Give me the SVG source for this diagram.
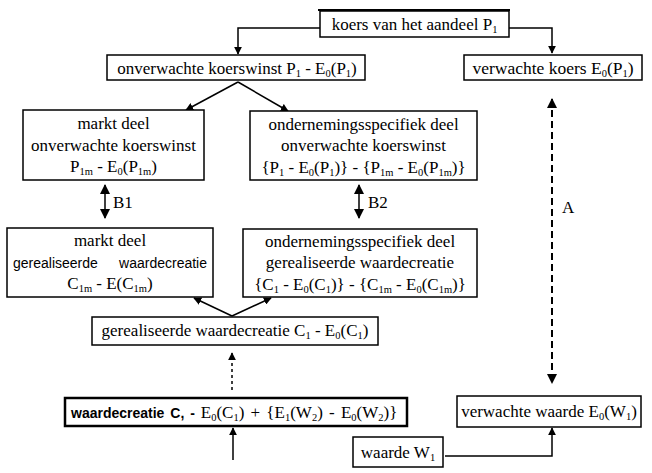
<svg xmlns="http://www.w3.org/2000/svg" width="652" height="473" viewBox="0 0 652 473">
<style>
.box{fill:#fff;stroke:#000;stroke-width:1.5}
.thick{fill:#fff;stroke:#000;stroke-width:2.5}
.t{font-family:"Liberation Serif","Times New Roman",serif;font-size:17px;fill:#000}
.s{font-family:"Liberation Sans",Arial,sans-serif;font-size:14px;fill:#000}
.b{font-family:"Liberation Sans",Arial,sans-serif;font-size:14px;font-weight:bold;fill:#000}
.sub{font-size:10.5px}
.c{stroke:#000;stroke-width:1.5;fill:none}
.d{stroke:#000;stroke-width:2;fill:none;stroke-dasharray:7 4}
.dt{stroke:#000;stroke-width:1.5;fill:none;stroke-dasharray:3 3}
</style>
<defs>
<marker id="ah" viewBox="0 0 10 10" refX="9" refY="5" markerWidth="8" markerHeight="8" markerUnits="userSpaceOnUse" orient="auto-start-reverse"><path d="M0,0 L10,5 L0,10 z" fill="#000"/></marker>
<marker id="ahb" viewBox="0 0 10 10" refX="9" refY="5" markerWidth="10" markerHeight="10" markerUnits="userSpaceOnUse" orient="auto-start-reverse"><path d="M0,0 L10,5 L0,10 z" fill="#000"/></marker>
</defs>

<g id="connectors">
<polyline class="c" points="320,28 238,28 238,54" marker-end="url(#ah)"/>
<polyline class="c" points="509,28 552,28 552,53" marker-end="url(#ah)"/>
<line class="c" x1="238" y1="82" x2="186" y2="110" marker-end="url(#ah)"/>
<line class="c" x1="238" y1="82" x2="288" y2="111" marker-end="url(#ah)"/>
<line class="c" x1="105" y1="185" x2="105" y2="218" marker-start="url(#ahb)" marker-end="url(#ahb)"/>
<line class="c" x1="359" y1="185" x2="359" y2="218" marker-start="url(#ahb)" marker-end="url(#ahb)"/>
<line class="d" x1="552" y1="99" x2="552" y2="383" marker-start="url(#ahb)" marker-end="url(#ahb)"/>
<line class="c" x1="232" y1="316" x2="194" y2="298" marker-end="url(#ah)"/>
<line class="c" x1="232" y1="316" x2="271" y2="298" marker-end="url(#ah)"/>
<line class="dt" x1="232" y1="390" x2="232" y2="353" marker-end="url(#ah)"/>
<line class="c" x1="233" y1="460" x2="233" y2="428" marker-end="url(#ah)"/>
<polyline class="c" stroke-width="1" points="445,456 552,456 552,428" marker-end="url(#ah)"/>
<text class="t" x="113" y="208">B1</text>
<text class="t" x="368" y="208">B2</text>
<text class="t" x="562" y="213">A</text>
</g>

<g id="koers">
<line x1="318" y1="10" x2="510" y2="10" stroke="#000" stroke-width="2"/>
<rect class="box" x="320" y="11" width="189" height="26"/>
<text class="t" x="414.5" y="30" text-anchor="middle">koers van het aandeel P<tspan class="sub" dy="3">1</tspan></text>
</g>

<g id="onverwachte">
<rect class="box" x="107" y="55" width="258" height="25"/>
<text class="t" x="237" y="74" text-anchor="middle">onverwachte koerswinst P<tspan class="sub" dy="3">1</tspan><tspan dy="-3"> - E</tspan><tspan class="sub" dy="3">0</tspan><tspan dy="-3">(P</tspan><tspan class="sub" dy="3">1</tspan><tspan dy="-3">)</tspan></text>
</g>

<g id="verwachte-koers">
<rect class="box" x="464" y="55" width="178" height="25"/>
<text class="t" x="553" y="74" text-anchor="middle" style="font-size:17.5px">verwachte koers E<tspan class="sub" dy="3">0</tspan><tspan dy="-3">(P</tspan><tspan class="sub" dy="3">1</tspan><tspan dy="-3">)</tspan></text>
</g>

<g id="markt-onverwacht">
<rect class="box" x="23" y="110" width="181" height="70"/>
<text class="t" x="113.5" y="129" text-anchor="middle">markt deel</text>
<text class="t" x="113.5" y="151" text-anchor="middle">onverwachte koerswinst</text>
<text class="t" x="113.5" y="172" text-anchor="middle">P<tspan class="sub" dy="3">1m</tspan><tspan dy="-3"> - E</tspan><tspan class="sub" dy="3">0</tspan><tspan dy="-3">(P</tspan><tspan class="sub" dy="3">1m</tspan><tspan dy="-3">)</tspan></text>
</g>

<g id="onderneming-onverwacht">
<rect class="box" x="250" y="111" width="227" height="69"/>
<text class="t" x="363.5" y="130" text-anchor="middle">ondernemingsspecifiek deel</text>
<text class="t" x="363.5" y="151" text-anchor="middle">onverwachte koerswinst</text>
<text class="t" x="363.5" y="173" text-anchor="middle">{P<tspan class="sub" dy="3">1</tspan><tspan dy="-3"> - E</tspan><tspan class="sub" dy="3">0</tspan><tspan dy="-3">(P</tspan><tspan class="sub" dy="3">1</tspan><tspan dy="-3">)} - {P</tspan><tspan class="sub" dy="3">1m</tspan><tspan dy="-3"> - E</tspan><tspan class="sub" dy="3">0</tspan><tspan dy="-3">(P</tspan><tspan class="sub" dy="3">1m</tspan><tspan dy="-3">)}</tspan></text>
</g>

<g id="markt-gerealiseerd">
<rect class="box" x="7" y="228" width="206" height="69"/>
<text class="t" x="110" y="246" text-anchor="middle">markt deel</text>
<text class="s" x="13" y="268">gerealiseerde</text>
<text class="s" x="207" y="268" text-anchor="end">waardecreatie</text>
<text class="t" x="110" y="289" text-anchor="middle">C<tspan class="sub" dy="3">1m</tspan><tspan dy="-3"> - E(C</tspan><tspan class="sub" dy="3">1m</tspan><tspan dy="-3">)</tspan></text>
</g>

<g id="onderneming-gerealiseerd">
<rect class="box" x="243" y="229" width="234" height="68"/>
<text class="t" x="360" y="247" text-anchor="middle">ondernemingsspecifiek deel</text>
<text class="t" x="360" y="268" text-anchor="middle">gerealiseerde waardecreatie</text>
<text class="t" x="360" y="290" text-anchor="middle">{C<tspan class="sub" dy="3">1</tspan><tspan dy="-3"> - E</tspan><tspan class="sub" dy="3">0</tspan><tspan dy="-3">(C</tspan><tspan class="sub" dy="3">1</tspan><tspan dy="-3">)} - {C</tspan><tspan class="sub" dy="3">1m</tspan><tspan dy="-3"> - E</tspan><tspan class="sub" dy="3">0</tspan><tspan dy="-3">(C</tspan><tspan class="sub" dy="3">1m</tspan><tspan dy="-3">)}</tspan></text>
</g>

<g id="gerealiseerde-waardecreatie">
<rect class="box" x="92" y="317" width="286" height="28"/>
<text class="t" x="235" y="336" text-anchor="middle">gerealiseerde waardecreatie C<tspan class="sub" dy="3">1</tspan><tspan dy="-3"> - E</tspan><tspan class="sub" dy="3">0</tspan><tspan dy="-3">(C</tspan><tspan class="sub" dy="3">1</tspan><tspan dy="-3">)</tspan></text>
</g>

<g id="waardecreatie">
<rect class="thick" x="65" y="398" width="342" height="28"/>
<text x="71" y="418" word-spacing="2"><tspan class="b">waardecreatie C, - </tspan><tspan class="t">E</tspan><tspan class="t sub" dy="3">0</tspan><tspan class="t" dy="-3">(C</tspan><tspan class="t sub" dy="3">1</tspan><tspan class="t" dy="-3">) + {E</tspan><tspan class="t sub" dy="3">1</tspan><tspan class="t" dy="-3">(W</tspan><tspan class="t sub" dy="3">2</tspan><tspan class="t" dy="-3">) - E</tspan><tspan class="t sub" dy="3">0</tspan><tspan class="t" dy="-3">(W</tspan><tspan class="t sub" dy="3">2</tspan><tspan class="t" dy="-3">)}</tspan></text>
</g>

<g id="verwachte-waarde">
<rect class="box" x="457" y="396" width="184" height="31"/>
<text class="t" x="549" y="417" text-anchor="middle">verwachte waarde E<tspan class="sub" dy="3">0</tspan><tspan dy="-3">(W</tspan><tspan class="sub" dy="3">1</tspan><tspan dy="-3">)</tspan></text>
</g>

<g id="waarde">
<rect class="box" x="353" y="437" width="90" height="30"/>
<text class="t" x="398" y="458" text-anchor="middle">waarde W<tspan class="sub" dy="3">1</tspan></text>
</g>
</svg>
